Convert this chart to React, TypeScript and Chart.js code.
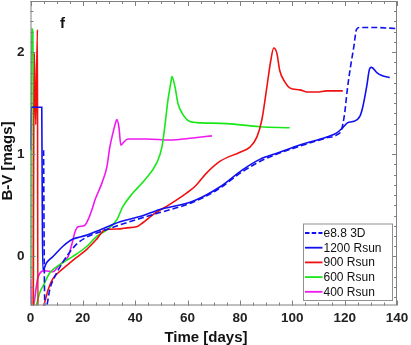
import { useEffect, useRef } from 'react';
import { Chart, registerables } from 'chart.js';
Chart.register(...registerables);

const FONT = "'Liberation Sans', Arial, Helvetica, sans-serif";

const seriesLabels = ['e8.8 3D', '1200 Rsun', '900 Rsun', '600 Rsun', '400 Rsun'];
const seriesColors = ['#1010f0', '#1010f0', '#f01010', '#18e818', '#f018f0'];

const xTickValues = [0, 20, 40, 60, 80, 100, 120, 140];
const yTickValues = [0, 1, 2];

const e88T = [5.0, 5.3, 5.6, 6.2, 7.4, 9.4, 10.0, 13.8, 17.6, 21.5, 26.5, 34.2, 46.8, 62.0, 71.2, 81.0, 87.6, 94.0, 103.0, 113.0, 117.0, 118.8, 120.0, 121.0, 122.2, 123.5, 124.5, 125.5, 132.0, 140.0];
const e88V = [1.04, -0.2, -0.55, -0.49, -0.32, -0.19, -0.16, 0.0, 0.12, 0.19, 0.24, 0.31, 0.41, 0.53, 0.65, 0.83, 0.93, 1.0, 1.08, 1.16, 1.19, 1.24, 1.40, 1.63, 1.85, 2.05, 2.22, 2.24, 2.24, 2.23];

const r1200T = [0, 0.2, 4.3, 4.5, 4.7, 6.2, 8.6, 12.4, 16.2, 18.9, 21.6, 26.5, 34.2, 41.8, 49.4, 62.0, 72.3, 81.1, 87.6, 94.1, 102.9, 113.2, 117.0, 119.3, 121.2, 123.1, 125.8, 126.9, 128.4, 129.6, 130.3, 132.3, 134.2, 137.2];
const r1200V = [1.04, 1.46, 1.46, 0.5, -0.13, -0.06, 0.0, 0.10, 0.17, 0.19, 0.21, 0.26, 0.34, 0.39, 0.46, 0.54, 0.68, 0.85, 0.95, 1.01, 1.09, 1.17, 1.21, 1.26, 1.31, 1.32, 1.37, 1.46, 1.66, 1.84, 1.85, 1.80, 1.77, 1.75];

const r900T = [1.0, 1.45, 2.0, 2.65, 2.8, 4.9, 6.8, 8.5, 10.6, 13.8, 17.6, 21.5, 25.3, 28.4, 34.2, 36.8, 40.5, 42.9, 46.8, 53.2, 59.6, 63.0, 67.4, 72.3, 80.0, 83.8, 86.5, 88.4, 90.3, 91.8, 92.9, 94.1, 95.2, 97.1, 99.0, 102.9, 105.5, 109.4, 113.2, 119.3];
const r900V = [-0.55, 1.99, 1.29, 2.22, -0.55, -0.49, -0.32, -0.22, -0.16, -0.09, -0.01, 0.07, 0.17, 0.26, 0.27, 0.28, 0.29, 0.33, 0.41, 0.51, 0.62, 0.69, 0.82, 0.93, 1.02, 1.07, 1.17, 1.34, 1.66, 1.92, 2.04, 1.99, 1.82, 1.71, 1.65, 1.63, 1.61, 1.61, 1.62, 1.62];

const r600T = [0.05, 0.4, 0.9, 1.2, 2.1, 3.6, 4.8, 7.4, 12.4, 16.2, 21.6, 25.4, 29.2, 33.0, 35.3, 39.1, 43.7, 48.3, 50.2, 51.3, 52.5, 53.6, 54.0, 55.2, 56.3, 58.2, 60.9, 63.6, 75.0, 87.6, 99.0];
const r600V = [-0.2, 2.23, 2.2, -0.55, -0.49, -0.35, -0.29, -0.16, -0.06, 0.0, 0.10, 0.20, 0.26, 0.36, 0.49, 0.62, 0.75, 0.92, 1.07, 1.27, 1.53, 1.70, 1.76, 1.66, 1.50, 1.39, 1.32, 1.31, 1.30, 1.27, 1.26];

const r400T = [0.05, 0.35, 1.1, 2.9, 5.5, 8.6, 10.5, 12.5, 14.4, 15.8, 17.0, 18.2, 20.5, 22.0, 23.5, 24.6, 27.3, 29.2, 30.3, 31.5, 32.3, 33.0, 33.8, 34.5, 35.3, 37.2, 44.5, 53.2, 62.0, 69.3];
const r400V = [-0.22, -0.55, -0.5, -0.2, -0.14, -0.15, -0.1, -0.05, 0.0, 0.12, 0.24, 0.29, 0.30, 0.36, 0.46, 0.55, 0.72, 0.88, 1.07, 1.21, 1.29, 1.34, 1.26, 1.09, 1.11, 1.15, 1.15, 1.14, 1.16, 1.18];

const seriesT = [e88T, r1200T, r900T, r600T, r400T];
const seriesV = [e88V, r1200V, r900V, r600V, r400V];

const toPoints = (t: number[], v: number[]) => t.map((x, i) => ({ x, y: v[i] }));

const zeroPad = (s: any) => {
  s.paddingTop = 0;
  s.paddingBottom = 0;
  s.paddingLeft = 0;
  s.paddingRight = 0;
};

const framePlugin = {
  id: 'framePlugin',
  afterDraw(chart: any) {
    const { ctx, chartArea: a, scales } = chart;
    const xs = scales.x;
    const ys = scales.y;
    ctx.save();
    ctx.strokeStyle = '#808080';
    ctx.lineWidth = 1;
    ctx.strokeRect(a.left + 0.5, a.top + 0.5, a.right - a.left - 1, a.bottom - a.top - 1);
    ctx.beginPath();
    for (let t = 0; t <= 140; t += 5) {
      const px = Math.round(xs.getPixelForValue(t)) + 0.5;
      const len = t % 20 === 0 ? 5 : 3;
      ctx.moveTo(px, a.bottom);
      ctx.lineTo(px, a.bottom - len);
      ctx.moveTo(px, a.top);
      ctx.lineTo(px, a.top + len);
    }
    for (let k = -4; k <= 25; k++) {
      const v = k / 10;
      const py = Math.round(ys.getPixelForValue(v)) + 0.5;
      const len = k % 10 === 0 ? 5 : 3;
      ctx.moveTo(a.left, py);
      ctx.lineTo(a.left + len, py);
      ctx.moveTo(a.right, py);
      ctx.lineTo(a.right - len, py);
    }
    ctx.stroke();

    // panel letter
    ctx.fillStyle = '#111';
    ctx.font = `bold 15px ${FONT}`;
    ctx.textAlign = 'center';
    ctx.textBaseline = 'alphabetic';
    ctx.fillText('f', 62.5, 28);

    // axis titles
    ctx.font = `bold 15px ${FONT}`;
    ctx.textBaseline = 'middle';
    ctx.fillText('Time [days]', 206, 337.5);
    ctx.save();
    ctx.translate(8, 161);
    ctx.rotate(-Math.PI / 2);
    ctx.fillText('B-V [mags]', 0, 0);
    ctx.restore();

    // legend
    const bx = 303, by = 223.5, bw = 89, bh = 76.5;
    ctx.fillStyle = '#ffffff';
    ctx.fillRect(bx, by, bw, bh);
    ctx.strokeStyle = '#909090';
    ctx.strokeRect(bx + 0.5, by + 0.5, bw, bh);
    ctx.font = `12px ${FONT}`;
    ctx.textAlign = 'left';
    ctx.textBaseline = 'middle';
    chart.data.datasets.forEach((ds: any, i: number) => {
      const yy = 233 + i * 14.7;
      ctx.beginPath();
      ctx.strokeStyle = ds.borderColor;
      ctx.lineWidth = 1.8;
      ctx.setLineDash(ds.borderDash && ds.borderDash.length ? [4.5, 2.2] : []);
      ctx.moveTo(305, yy);
      ctx.lineTo(322.5, yy);
      ctx.stroke();
      ctx.setLineDash([]);
      ctx.fillStyle = '#111';
      ctx.fillText(ds.label, 323.5, yy + 0.5);
    });
    ctx.restore();
  },
};

export default function App() {
  const ref = useRef<HTMLCanvasElement | null>(null);
  useEffect(() => {
    if (!ref.current) return;
    const chart = new Chart(ref.current, {
      type: 'line',
      data: {
        datasets: seriesLabels.map((label, i) => ({
          label,
          data: toPoints(seriesT[i], seriesV[i]),
          borderColor: seriesColors[i],
          backgroundColor: seriesColors[i],
          borderWidth: 1.6,
          borderDash: i === 0 ? [6, 3] : [],
          pointRadius: 0,
          fill: false,
          cubicInterpolationMode: 'monotone',
        })),
      },
      options: {
        animation: false,
        responsive: false,
        devicePixelRatio: 1,
        layout: { padding: { top: 1, right: 14, left: 0, bottom: 0 } },
        plugins: { legend: { display: false }, tooltip: { enabled: false } },
        scales: {
          x: {
            type: 'linear',
            min: 0,
            max: 140,
            afterBuildTicks: (s: any) => { s.ticks = xTickValues.map((v) => ({ value: v })); },
            afterFit: (s: any) => { s.height = 39.5; zeroPad(s); },
            grid: { display: false, drawTicks: false },
            border: { display: false },
            ticks: { font: { family: FONT, size: 13.5, weight: 'bold' }, color: '#222', padding: 5, maxRotation: 0, autoSkip: false },
          },
          y: {
            type: 'linear',
            min: -0.48,
            max: 2.5,
            afterBuildTicks: (s: any) => { s.ticks = yTickValues.map((v) => ({ value: v })); },
            afterFit: (s: any) => { s.width = 30.5; zeroPad(s); },
            grid: { display: false, drawTicks: false },
            border: { display: false },
            ticks: { font: { family: FONT, size: 13.5, weight: 'bold' }, color: '#222', padding: 6, autoSkip: false },
          },
        },
      },
      plugins: [framePlugin],
    } as any);
    return () => chart.destroy();
  }, []);
  return (
    <div style={{ position: 'absolute', left: 0, top: 0, width: 411, height: 345 }}>
      <canvas ref={ref} width={411} height={345} />
    </div>
  );
}
